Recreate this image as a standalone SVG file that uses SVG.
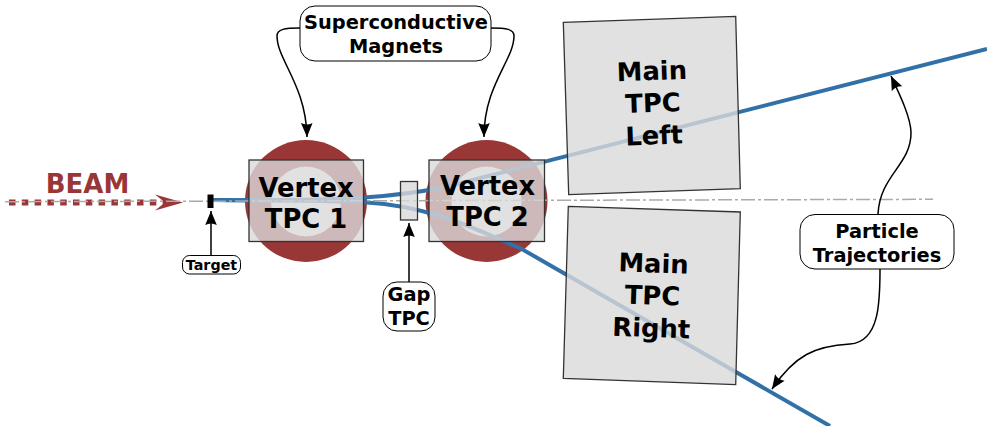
<svg xmlns="http://www.w3.org/2000/svg" width="987" height="426" viewBox="0 0 987 426">
<style>
text{font-family:"DejaVu Sans",sans-serif;font-weight:700;text-anchor:middle;fill:#000}
.big{font-size:25.8px}
.lab{font-size:19.4px}
.see{fill:#d9d9d9;fill-opacity:.8;stroke:#333;stroke-width:1.3}
.box{fill:#fff;stroke:#000;stroke-width:1}
.ptr{fill:none;stroke:#000;stroke-width:1.5;marker-end:url(#head)}
.traj{fill:none;stroke:#3271a8;stroke-width:4}
</style>
<defs>
<marker id="head" markerUnits="userSpaceOnUse" markerWidth="16" markerHeight="14" refX="15" refY="7" orient="auto">
<path d="M15 7L1 1.2Q4 7 1 12.8Z" fill="#000"/>
</marker>
</defs>
<g id="beam">
<path d="M9 202.500H165" fill="none" stroke="#993737" stroke-width="6" stroke-dasharray="6.5 6.3"/>
<path d="M155 194.500L183 202.500L155 210.500L165 202.500Z" fill="#993737"/>
</g>
<g id="magnet-1"><circle cx="306" cy="201" r="61" fill="#993737"/><circle cx="306" cy="201.500" r="35" fill="#fff"/></g>
<g id="magnet-2"><circle cx="486.500" cy="201" r="61" fill="#993737"/><circle cx="486.500" cy="201.500" r="35" fill="#fff"/></g>
<g id="connectors">
<path class="traj" d="M213 200C280 200.500 330 199.500 364 197.500C395 195.500 420 192 445 187L987 49"/>
<path class="traj" d="M213 200C280 200.500 330 200.500 367 202.500C395 204 420 210 440 216C470 225 495 238 520 248L830 426"/>
</g>
<path id="axis" d="M5 201.700L933 199.300" fill="none" stroke="#aaa" stroke-width="1.500" stroke-dasharray="14 3 3 3"/>
<g id="main-tpc-left"><polygon class="see" points="563.300,22.300 735.700,16.300 740.300,188.700 568.700,194.700"/>
<g transform="rotate(-2 652 105)"><text class="big" x="653" y="80">Main</text><text class="big" x="653" y="112">TPC</text><text class="big" x="653" y="144.500">Left</text></g></g>
<g id="main-tpc-right"><polygon class="see" points="568.300,206.300 740.300,212 735.700,384.700 563.300,378.300"/>
<g transform="rotate(2 652 295)"><text class="big" x="652.500" y="272.500">Main</text><text class="big" x="652.500" y="304.500">TPC</text><text class="big" x="652.500" y="337">Right</text></g></g>
<g id="vertex-tpc-1"><rect class="see" x="249" y="160" width="114.500" height="81.500"/>
<text class="big" x="306" y="197">Vertex</text><text class="big" x="306" y="228">TPC 1</text></g>
<g id="vertex-tpc-2"><rect class="see" x="429" y="160" width="115.500" height="81.500"/>
<text class="big" x="487.500" y="195">Vertex</text><text class="big" x="487.500" y="226">TPC 2</text></g>
<g id="gap-tpc"><rect class="see" x="400.500" y="181.500" width="17" height="38.500"/></g>
<g id="target"><rect x="207.500" y="194.500" width="6" height="13.500" fill="#000"/></g>
<g id="pointers">
<path class="ptr" d="M211 256V211"/>
<path class="ptr" d="M409 282V223"/>
<path class="ptr" d="M300 28C285 28 277 29 277 36C277 60 306 85 307 137"/>
<path class="ptr" d="M491 28C506 28 514 29 514 36C514 60 484 85 484 137"/>
<path class="ptr" d="M878 214C880 175 911 165 911 133C911 118 900 95 891 76"/>
<path class="ptr" d="M880 269C880 300 880 342 850 344C815 346 795 355 772 389"/>
</g>
<text x="87.500" y="193" font-size="26" style="fill:#993737">BEAM</text>
<g id="label-magnets"><rect class="box" x="300" y="6" width="191" height="55" rx="15"/>
<text class="lab" x="396" y="29">Superconductive</text><text class="lab" x="396" y="53">Magnets</text></g>
<g id="label-target"><rect class="box" x="182.500" y="255.500" width="58" height="18.500" rx="7"/>
<text x="211.500" y="269.500" font-size="14.300">Target</text></g>
<g id="label-gap"><rect class="box" x="383" y="282" width="52" height="49" rx="14"/>
<text class="lab" x="409" y="301">Gap</text><text class="lab" x="409" y="324.500">TPC</text></g>
<g id="label-trajectories"><rect class="box" x="800" y="214.500" width="154" height="54.500" rx="15"/>
<text class="lab" x="877" y="238">Particle</text><text class="lab" x="877" y="261.500">Trajectories</text></g>
</svg>
